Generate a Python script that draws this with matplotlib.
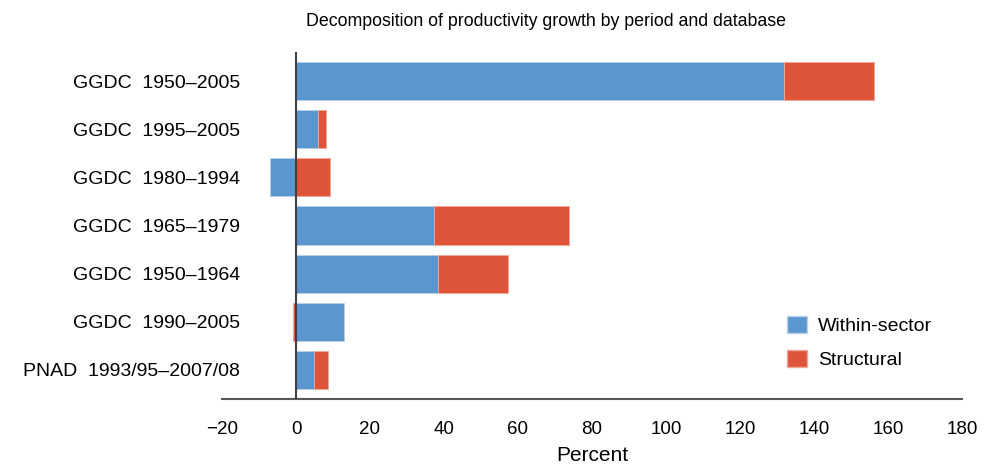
import matplotlib
matplotlib.use("Agg")
import matplotlib.pyplot as plt
from matplotlib.patches import Patch

plt.rcParams['font.family'] = ['Liberation Sans', 'DejaVu Sans']

categories = ["GGDC  1950\u20132005", "GGDC  1995\u20132005", "GGDC  1980\u20131994",
              "GGDC  1965\u20131979", "GGDC  1950\u20131964", "GGDC  1990\u20132005",
              "PNAD  1993/95\u20132007/08"]
within = [131.9, 5.9, -6.9, 37.2, 38.5, 13.1, 4.9]
structural = [24.2, 2.1, 9.3, 36.5, 18.9, -0.7, 3.7]
xticks = [-20, 0, 20, 40, 60, 80, 100, 120, 140, 160, 180]

blue = "#5B96CF"
red = "#DE553A"

fig = plt.figure(figsize=(9.84, 4.66), dpi=100)
ax = fig.add_axes([222/984, 1-398.7/466, (962-222)/984, (398.7-52.3)/466])

ypos = list(range(len(categories)))
h = 0.79
# stacking: structural stacks on within if same sign, else starts at 0
lefts = []
for w, s in zip(within, structural):
    if (w >= 0 and s >= 0) or (w < 0 and s < 0):
        lefts.append(w)
    else:
        lefts.append(0)
ax.barh(ypos, within, height=h, color=blue, edgecolor="#B9D1EA", linewidth=0.6)
ax.barh(ypos, structural, left=lefts, height=h, color=red, edgecolor="#F0A898", linewidth=0.6)

ax.set_xlim(-20, 180)
ax.set_ylim(6.6, -0.6)
ax.set_xticks(xticks)
ax.set_xticklabels(["\u221220" if t < 0 else str(t) for t in xticks])
ax.set_yticks(ypos)
ax.set_yticklabels(categories, fontsize=14)
ax.tick_params(axis='x', length=0, labelsize=13.5, pad=16)
ax.tick_params(axis='y', length=0, pad=-13)

for sp in ['top', 'right', 'left']:
    ax.spines[sp].set_visible(False)
ax.spines['bottom'].set_color("#595959")
ax.spines['bottom'].set_linewidth(1.5)
ax.axvline(0, color="#404040", linewidth=1.5, zorder=3)

ax.set_xlabel("Percent", fontsize=15, labelpad=6)

fig.text(546/984, 1-21/466, "Decomposition of productivity growth by period and database",
         ha='center', va='center', fontsize=12.8)

handles = [Patch(facecolor=blue, edgecolor="#B9D1EA"), Patch(facecolor=red, edgecolor="#F0A898")]
ax.legend(handles, ["Within-sector", "Structural"], loc='lower left',
          bbox_to_anchor=(0.74, 0.035), frameon=False, fontsize=14,
          handlelength=1.0, handleheight=1.0, handletextpad=0.6, labelspacing=0.75)

fig.savefig("out.png", dpi=100)
